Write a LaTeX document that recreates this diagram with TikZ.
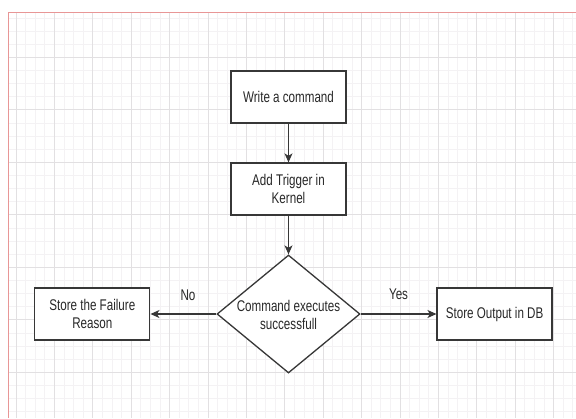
\documentclass[tikz,border=0pt]{standalone}
\usepackage{fontspec}
\setmainfont{Liberation Sans}[FakeStretch=0.75]
\usetikzlibrary{shapes.geometric,arrows.meta}
\definecolor{gridminor}{RGB}{244,242,244}
\definecolor{gridmajor}{RGB}{226,224,226}
\definecolor{framecol}{RGB}{232,150,150}
\definecolor{txt}{RGB}{40,40,40}
\definecolor{linecol}{RGB}{55,55,55}
\begin{document}
\begin{tikzpicture}[x=1pt,y=-1pt,
  txtfont/.style={font=\fontsize{15.5}{18.5}\selectfont, text=txt},
  box/.style={draw=linecol, line width=1.3pt, fill=white, minimum width=115pt, minimum height=52pt, inner sep=0pt, align=center, txtfont},
  decision/.style={diamond, draw=linecol, line width=1.3pt, fill=white, minimum width=143pt, minimum height=118pt, inner sep=0pt},
  arr/.style={draw=linecol, line width=1.2pt, -{Stealth[length=9pt,width=8pt,inset=2.5pt]}},
  lbl/.style={txtfont, inner sep=0pt}
]
\useasboundingbox (0,0) rectangle (576,418);
\fill[white] (0,0) rectangle (576,418);
\begin{scope}
  \clip (8.5,12) rectangle (576,418);
  \foreach \i in {0,...,58} \draw[gridminor, line width=0.8pt] ({16+9.6*\i},12) -- ({16+9.6*\i},418);
  \foreach \k in {1,...,31} \draw[gridminor, line width=0.8pt] (8.5,{4.8+13.125*\k}) -- (576,{4.8+13.125*\k});
  \foreach \i in {0,...,14} \draw[gridmajor, line width=1pt] ({16+38.4*\i},12) -- ({16+38.4*\i},418);
  \foreach \k in {1,...,7} \draw[gridmajor, line width=1pt] (8.5,{4.8+52.5*\k}) -- (576,{4.8+52.5*\k});
\end{scope}
\draw[framecol, line width=1pt] (8.5,418) -- (8.5,12) -- (576,12);

\node[box] (write) at (288.5,97) {Write a command};
\node[box] (trigger) at (288.5,189) {Add Trigger in\\Kernel};
\node[decision] (dec) at (288.5,314) {};
\node[txtfont, align=center, inner sep=0pt] (dectext) at (288.5,315) {Command executes\\successfull};
\node[box] (fail) at (92.3,314) {Store the Failure\\Reason};
\node[box] (store) at (494.6,314) {Store Output in DB};

\draw[arr] (write.south) -- (trigger.north);
\draw[arr] (trigger.south) -- (dec.north);
\draw[arr] (dec.west) -- node[lbl, pos=0.43, yshift=19pt] (no) {No} (fail.east);
\draw[arr] (dec.east) -- node[lbl, pos=0.5, yshift=20pt] (yes) {Yes} (store.west);
\end{tikzpicture}
\end{document}
